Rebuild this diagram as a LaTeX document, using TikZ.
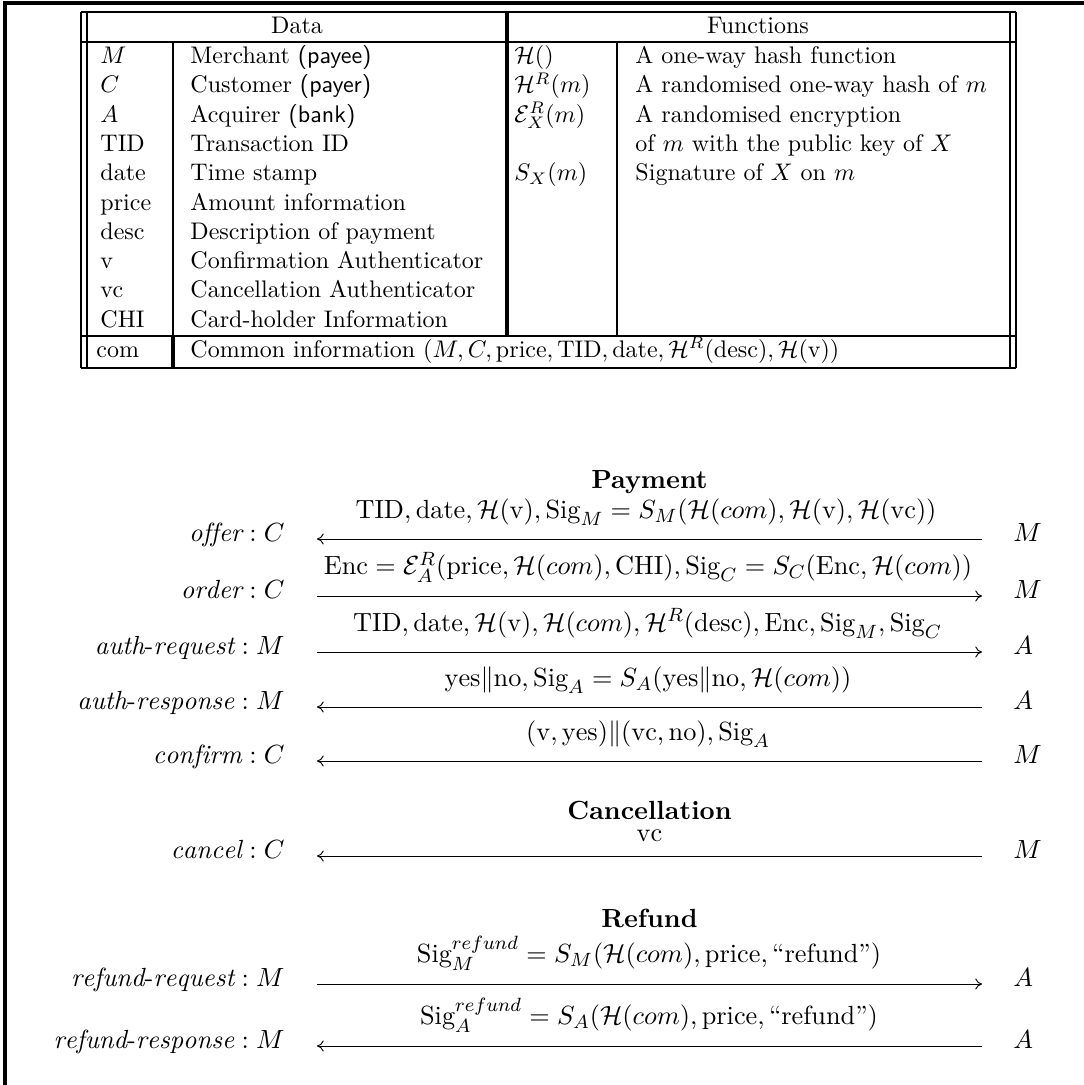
\documentclass[tikz,border=0pt]{standalone}
\usepackage{fontspec}
\usetikzlibrary{arrows.meta}
\begin{document}
\begin{tikzpicture}[x=0.41667pt,y=-0.41667pt,
  rule/.style={line width=1.1pt},
  thickrule/.style={line width=1.8pt},
  frame/.style={line width=1.3pt},
  cell/.style={anchor=base west,inner sep=0pt},
  hdr/.style={anchor=base,inner sep=0pt},
  big/.style={font=\fontsize{10.95}{13.6}\selectfont},
  who/.style={big,anchor=base east,inner sep=0pt},
  peer/.style={big,anchor=base west,inner sep=0pt},
  msg/.style={big,anchor=south,inner sep=0pt},
  sect/.style={anchor=base,inner sep=0pt,font=\fontsize{10.95}{13.6}\selectfont\bfseries},
  msgline/.style={line width=0.4pt},
  tip/.tip={Computer Modern Rightarrow[length=2.8pt,width=4.6pt]},
  toR/.style={msgline,-tip},
  toL/.style={msgline,tip-}]
\useasboundingbox (0,0) rectangle (1084,1085);
% frame
\draw[frame] (5,1085) -- (5,3) -- (1084,3);
% table rules
\draw[rule] (81,12) -- (81,368) (87,12) -- (87,368) (1010,12) -- (1010,368) (1016,12) -- (1016,368);
\draw[rule] (81,12) -- (1016,12) (81,42) -- (1016,42) (81,336) -- (1016,336) (81,368) -- (1016,368);
\draw[rule] (173,42) -- (173,336) (617,42) -- (617,336);
\draw[thickrule] (173,336) -- (173,368) (507,12) -- (507,336);
% headers
\node[hdr] (hdata) at (297,33) {Data};
\node[hdr] (hfun) at (758,33) {Functions};
% data column
\node[cell] (d1) at (100,63.5) {$M$};
\node[cell] (d2) at (100,92.8) {$C$};
\node[cell] (d3) at (100,122.1) {$A$};
\node[cell] (d4) at (100,151.4) {TID};
\node[cell] (d5) at (100,180.7) {date};
\node[cell] (d6) at (100,210) {price};
\node[cell] (d7) at (100,239.3) {desc};
\node[cell] (d8) at (100,268.6) {v};
\node[cell] (d9) at (100,297.9) {vc};
\node[cell] (d10) at (100,327.2) {CHI};
\node[cell] (e1) at (190,63.5) {Merchant \textsf{(payee)}};
\node[cell] (e2) at (190,92.8) {Customer \textsf{(payer)}};
\node[cell] (e3) at (190,122.1) {Acquirer \textsf{(bank)}};
\node[cell] (e4) at (190,151.4) {Transaction ID};
\node[cell] (e5) at (190,180.7) {Time stamp};
\node[cell] (e6) at (190,210) {Amount information};
\node[cell] (e7) at (190,239.3) {Description of payment};
\node[cell] (e8) at (190,268.6) {Confirmation Authenticator};
\node[cell] (e9) at (190,297.9) {Cancellation Authenticator};
\node[cell] (e10) at (190,327.2) {Card-holder Information};
% functions column
\node[cell] (f1) at (514,63.5) {$\mathcal{H}()$};
\node[cell] (f2) at (514,92.8) {$\mathcal{H}^R(m)$};
\node[cell] (f3) at (514,122.1) {$\mathcal{E}^R_X(m)$};
\node[cell] (f5) at (514,180.7) {$S_X(m)$};
\node[cell] (g1) at (635,63.5) {A one-way hash function};
\node[cell] (g2) at (635,92.8) {A randomised one-way hash of $m$};
\node[cell] (g3) at (635,122.1) {A randomised encryption};
\node[cell] (g4) at (635,151.4) {of $m$ with the public key of $X$};
\node[cell] (g5) at (635,180.7) {Signature of $X$ on $m$};
% com row
\node[cell] (c1) at (96,357) {com};
\node[cell] (c2) at (190,357) {Common information $(M,C,\mathrm{price},\mathrm{TID},\mathrm{date},\mathcal{H}^R(\mathrm{desc}),\mathcal{H}(\mathrm{v}))$};
% section headings
\node[sect] (sp) at (649.5,488) {Payment};
\node[sect] (sc) at (649.5,819) {Cancellation};
\node[sect] (sr) at (649.5,927) {Refund};
% message endpoints
\coordinate (a1) at (317,539); \coordinate (b1) at (982,539);
\coordinate (a2) at (317,596); \coordinate (b2) at (982,596);
\coordinate (a3) at (317,652); \coordinate (b3) at (982,652);
\coordinate (a4) at (317,707); \coordinate (b4) at (982,707);
\coordinate (a5) at (317,761); \coordinate (b5) at (982,761);
\coordinate (a6) at (317,856); \coordinate (b6) at (982,856);
\coordinate (a7) at (317,984); \coordinate (b7) at (982,984);
\coordinate (a8) at (317,1046); \coordinate (b8) at (982,1046);
% left labels
\node[who] (w1) at (285,541) {$\mathit{offer}: C$};
\node[who] (w2) at (285,598) {$\mathit{order}: C$};
\node[who] (w3) at (285,654) {$\mathit{auth\mbox{-}request}: M$};
\node[who] (w4) at (285,709) {$\mathit{auth\mbox{-}response}: M$};
\node[who] (w5) at (285,763) {$\mathit{confirm}: C$};
\node[who] (w6) at (285,858) {$\mathit{cancel}: C$};
\node[who] (w7) at (285,986) {$\mathit{refund\mbox{-}request}: M$};
\node[who] (w8) at (285,1048) {$\mathit{refund\mbox{-}response}: M$};
% right labels
\node[peer] (p1) at (1013,541) {$M$};
\node[peer] (p2) at (1013,598) {$M$};
\node[peer] (p3) at (1013,654) {$A$};
\node[peer] (p4) at (1013,709) {$A$};
\node[peer] (p5) at (1013,763) {$M$};
\node[peer] (p6) at (1013,858) {$M$};
\node[peer] (p7) at (1013,986) {$A$};
\node[peer] (p8) at (1013,1048) {$A$};
% message texts
\node[msg] (m1) at (646,525.5) {$\mathrm{TID},\mathrm{date},\mathcal{H}(\mathrm{v}),\mathrm{Sig}_M=S_M(\mathcal{H}(com),\mathcal{H}(\mathrm{v}),\mathcal{H}(\mathrm{vc}))$};
\node[msg] (m2) at (648,582.5) {$\mathrm{Enc}=\mathcal{E}^R_A(\mathrm{price},\mathcal{H}(com),\mathrm{CHI}),\mathrm{Sig}_C=S_C(\mathrm{Enc},\mathcal{H}(com))$};
\node[msg] (m3) at (647.5,638.5) {$\mathrm{TID},\mathrm{date},\mathcal{H}(\mathrm{v}),\mathcal{H}(com),\mathcal{H}^R(\mathrm{desc}),\mathrm{Enc},\mathrm{Sig}_M,\mathrm{Sig}_C$};
\node[msg] (m4) at (648,693.5) {$\mathrm{yes}\|\mathrm{no},\mathrm{Sig}_A=S_A(\mathrm{yes}\|\mathrm{no},\mathcal{H}(com))$};
\node[msg] (m5) at (648,747.5) {$(\mathrm{v},\mathrm{yes})\|(\mathrm{vc},\mathrm{no}),\mathrm{Sig}_A$};
\node[msg] (m6) at (649.5,842.5) {$\mathrm{vc}$};
\node[msg] (m7) at (649,970.5) {$\mathrm{Sig}^{refund}_M=S_M(\mathcal{H}(com),\mathrm{price},\mbox{``refund''})$};
\node[msg] (m8) at (649,1032.5) {$\mathrm{Sig}^{refund}_A=S_A(\mathcal{H}(com),\mathrm{price},\mbox{``refund''})$};
% arrows
\draw[toL] (a1) -- (b1);
\draw[toR] (a2) -- (b2);
\draw[toR] (a3) -- (b3);
\draw[toL] (a4) -- (b4);
\draw[toL] (a5) -- (b5);
\draw[toL] (a6) -- (b6);
\draw[toR] (a7) -- (b7);
\draw[toL] (a8) -- (b8);
\end{tikzpicture}
\end{document}
